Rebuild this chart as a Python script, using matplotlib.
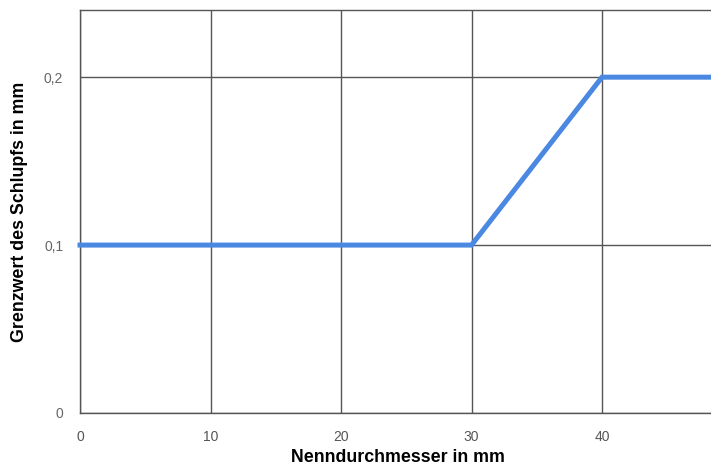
import matplotlib
matplotlib.use("Agg")
import matplotlib.pyplot as plt

# Data
x_vals = [0, 30, 40, 48.4]
y_vals = [0.1, 0.1, 0.2, 0.2]
x_ticks = [0, 10, 20, 30, 40]
x_tick_labels = ["0", "10", "20", "30", "40"]
y_ticks = [0, 0.1, 0.2]
y_tick_labels = ["0", "0,1", "0,2"]

plt.rcParams['font.family'] = ['Liberation Sans', 'DejaVu Sans']

fig = plt.figure(figsize=(7.11, 4.66), dpi=100)
ax = fig.add_axes([80/711, 53/466, 631/711, 403/466])

ax.plot(x_vals, y_vals, color="#4a88e2", lw=3.6, solid_joinstyle="miter", zorder=3, clip_on=False)

ax.set_xlim(0, 48.35)
ax.set_ylim(0, 0.24)
ax.set_xticks(x_ticks)
ax.set_xticklabels(x_tick_labels, color="#555555", fontsize=10)
ax.set_yticks(y_ticks)
ax.set_yticklabels(y_tick_labels, color="#666666", fontsize=10)
ax.tick_params(axis="both", length=0)
ax.tick_params(axis="x", pad=12)
ax.tick_params(axis="y", pad=12)
ax.grid(True, color="#555555", lw=1.0)
ax.set_axisbelow(True)
for side in ["left", "bottom", "top"]:
    ax.spines[side].set_color("#555555")
    ax.spines[side].set_linewidth(1.0)
ax.spines["right"].set_visible(False)

ax.set_xlabel("Nenndurchmesser in mm", fontsize=12.8, fontweight="bold")
ax.xaxis.set_label_coords((398 - 80) / 631, -(458 - 413) / 403)
ax.xaxis.label.set_va("center")
ax.set_ylabel("Grenzwert des Schlupfs in mm", fontsize=12.8, fontweight="bold")
ax.yaxis.set_label_coords(-(80 - 20) / 631, (413 - 212) / 403)
ax.yaxis.label.set_va("center")

fig.savefig("out.png", dpi=100)
